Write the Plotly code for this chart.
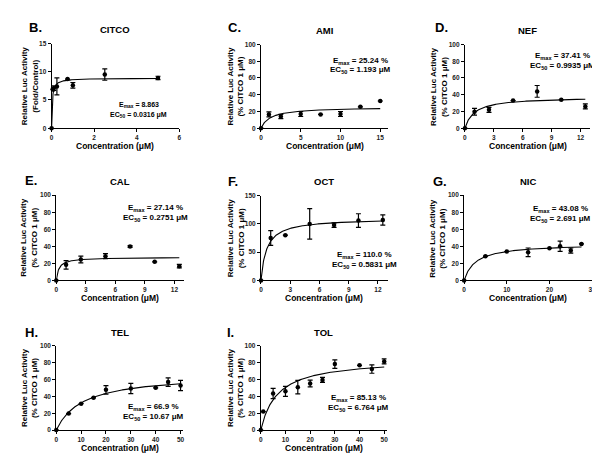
import numpy as np
import plotly.graph_objects as go

W, H = 600, 465

# ---------------- data ----------------
citco_x = [0, 0.05, 0.1, 0.25, 0.75, 1, 2.5, 5]
citco_y = [0, 6.9, 7.1, 7.4, 8.7, 7.6, 9.5, 8.9]
citco_e = [None, 0.3, 0.4, 1.5, None, 0.5, 1.0, 0.3]

ami_x = [0, 1, 2.5, 5, 7.5, 10, 12.5, 15]
ami_y = [0, 16.5, 14, 17, 16.5, 17, 25.5, 32.5]
ami_e = [None, 3, 2.5, 3, None, 3, None, None]

nef_x = [0, 1, 2.5, 5, 7.5, 10, 12.5]
nef_y = [0, 19.6, 22, 33, 44, 34, 26]
nef_e = [None, 4, 3, None, 7, None, 3]

cal_x = [0, 1, 2.5, 5, 7.5, 10, 12.5]
cal_y = [0, 18.3, 24.5, 28.4, 39.7, 21.8, 16.7]
cal_e = [None, 5, 4, 3, 1, None, 2]

oct_x = [0, 1, 2.5, 5, 7.5, 10, 12.5]
oct_y = [0, 75, 80, 100, 98, 106, 107]
oct_e = [None, 13, None, 27, 4, 12, 9]

nic_x = [0, 5, 10, 15, 20, 22.5, 25, 27.5]
nic_y = [0, 28.4, 33.9, 33, 37.7, 40, 35, 42.8]
nic_e = [None, None, None, 5, None, 6, 3, None]

tel_x = [0, 5, 10, 15, 20, 30, 40, 45, 50]
tel_y = [0, 19.6, 31.4, 38.4, 47.8, 49.4, 50.2, 57, 53]
tel_e = [None, None, None, None, 5, 6, None, 5, 6]

tol_x = [0, 1, 5, 10, 15, 20, 25, 30, 40, 45, 50]
tol_y = [0, 22, 43.5, 46, 51, 55.3, 59.6, 78.4, 76.9, 72.5, 81.6]
tol_e = [None, None, 6, 6, 8, 4, 3, 5, None, 5, 3]

# fitted parameters shown on the panels
emax_vals = [8.863, 25.24, 37.41, 27.14, 110.0, 43.08, 66.9, 85.13]
emax_text = ["8.863", "25.24 %", "37.41 %", "27.14 %", "110.0 %", "43.08 %", "66.9 %", "85.13 %"]
ec50_vals = [0.0316, 1.193, 0.9935, 0.2751, 0.5831, 2.691, 10.67, 6.764]
ec50_text = ["0.0316", "1.193", "0.9935", "0.2751", "0.5831", "2.691", "10.67", "6.764"]

letters = ["B.", "C.", "D.", "E.", "F.", "G.", "H.", "I."]
titles = ["CITCO", "AMI", "NEF", "CAL", "OCT", "NIC", "TEL", "TOL"]
ylab2 = ["(Fold/Control)"] + ["(% CITCO 1 \u03bcM)"] * 7

xs = [citco_x, ami_x, nef_x, cal_x, oct_x, nic_x, tel_x, tol_x]
ys = [citco_y, ami_y, nef_y, cal_y, oct_y, nic_y, tel_y, tol_y]
es = [citco_e, ami_e, nef_e, cal_e, oct_e, nic_e, tel_e, tol_e]

x_ranges = [[0, 6], [0, 16], [0, 13], [0, 13], [0, 13], [0, 30], [0, 51], [0, 51]]
x_ticks = [[0, 2, 4, 6], [0, 5, 10, 15], [0, 3, 6, 9, 12], [0, 3, 6, 9, 12],
           [0, 3, 6, 9, 12], [0, 10, 20, 30], [0, 10, 20, 30, 40, 50], [0, 10, 20, 30, 40, 50]]
y_ranges = [[0, 15], [0, 100], [0, 100], [0, 100], [0, 150], [0, 100], [0, 100], [0, 100]]
y_ticks = [[0, 5, 10, 15], [0, 20, 40, 60, 80, 100], [0, 20, 40, 60, 80, 100],
           [0, 20, 40, 60, 80, 100], [0, 50, 100, 150], [0, 20, 40, 60, 80, 100],
           [0, 20, 40, 60, 80, 100], [0, 20, 40, 60, 80, 100]]

# ---------------- layout geometry (pixels) ----------------
# (left px, right px, top px, bottom px)
boxes = [(42, 171, 32, 118), (253.5, 382, 33, 118), (459.5, 586, 33, 118),
         (46.7, 176, 186, 272.5), (253.5, 381.5, 186.5, 272.5), (458.7, 588, 186, 272.5),
         (46.7, 174.8, 339, 424.5), (253.3, 380.5, 339, 424.5)]
letter_pos = [(17, 16), (218, 16), (427, 16), (13, 171), (218, 172), (425, 172), (13, 325), (217, 325)]
ann_pos = [(130, 94, 105), (354, 49.5, 59), (558, 45, 54.5), (147, 199.5, 209),
           (358, 246.5, 256.5), (556, 200, 210), (145, 401.5, 411.5), (352, 392, 402)]
ann_size = [7, 8, 8, 8, 8, 8, 8, 8]
ytitle_off = [21.5, 26, 26.5, 27.5, 26, 26.5, 27.5, 26]

FONT = "Liberation Sans, Arial, sans-serif"

def fx(px):
    return px / W

def fy(py):
    return 1 - py / H

fig = go.Figure()
annotations = []
layout_axes = {}

for i in range(8):
    n = i + 1
    xa = "x" if n == 1 else f"x{n}"
    ya = "y" if n == 1 else f"y{n}"
    l, r, t, b = boxes[i]

    # fitted curve from the Emax / EC50 shown on the panel
    xc = np.linspace(0, max(xs[i]), 300)
    yc = emax_vals[i] * xc / (ec50_vals[i] + xc)
    fig.add_trace(go.Scatter(x=xc, y=yc, mode="lines", line=dict(color="black", width=1.1),
                             xaxis=xa, yaxis=ya, showlegend=False, hoverinfo="skip",
                             cliponaxis=False))
    err = [np.nan if v is None else v for v in es[i]]
    fig.add_trace(go.Scatter(x=xs[i], y=ys[i], mode="markers",
                             marker=dict(color="black", size=4.5, symbol="circle"),
                             error_y=dict(type="data", array=err, visible=True,
                                          color="black", thickness=1.2, width=2.5),
                             xaxis=xa, yaxis=ya, showlegend=False, cliponaxis=False))

    axis_common = dict(showline=True, linecolor="black", linewidth=1, ticks="outside",
                       ticklen=3, tickwidth=1, tickcolor="black", showgrid=False,
                       zeroline=False, tickfont=dict(family=FONT, size=6.5, color="#222",
                                                     weight="bold"),
                       fixedrange=True)
    layout_axes["xaxis" if n == 1 else f"xaxis{n}"] = dict(
        domain=[fx(l), fx(r)], anchor=ya, range=x_ranges[i], tickvals=x_ticks[i],
        **axis_common)
    layout_axes["yaxis" if n == 1 else f"yaxis{n}"] = dict(
        domain=[fy(b), fy(t)], anchor=xa, range=y_ranges[i], tickvals=y_ticks[i],
        **axis_common)

    # panel letter
    annotations.append(dict(text=letters[i], x=fx(letter_pos[i][0]), y=fy(letter_pos[i][1]),
                            xref="paper", yref="paper", xanchor="left", yanchor="middle",
                            showarrow=False, font=dict(family=FONT, size=13, color="black",
                                                       weight="bold")))
    # panel title
    annotations.append(dict(text=titles[i], x=fx((l + r) / 2), y=fy(t - 14),
                            xref="paper", yref="paper", xanchor="center", yanchor="middle",
                            showarrow=False, font=dict(family=FONT, size=9.5, color="black",
                                                       weight="bold")))
    # x title
    annotations.append(dict(text="Concentration (\u03bcM)", x=fx((l + r) / 2), y=fy(b + 18),
                            xref="paper", yref="paper", xanchor="center", yanchor="middle",
                            showarrow=False, font=dict(family=FONT, size=8.5, color="black",
                                                       weight="bold")))
    # y title
    annotations.append(dict(text="Relative Luc Activity<br>" + ylab2[i],
                            x=fx(l - ytitle_off[i]), y=fy((t + b) / 2),
                            xref="paper", yref="paper", xanchor="center", yanchor="middle",
                            textangle=-90, showarrow=False,
                            font=dict(family=FONT, size=8, color="black", weight="bold")))
    # Emax / EC50 labels
    ax, ay1, ay2 = ann_pos[i]
    annotations.append(dict(text="E<sub>max</sub> = " + emax_text[i], x=fx(ax), y=fy(ay1),
                            xref="paper", yref="paper", xanchor="center", yanchor="middle",
                            showarrow=False, font=dict(family=FONT, size=ann_size[i],
                                                       color="black", weight="bold")))
    annotations.append(dict(text="EC<sub>50</sub> = " + ec50_text[i] + " \u03bcM",
                            x=fx(ax), y=fy(ay2),
                            xref="paper", yref="paper", xanchor="center", yanchor="middle",
                            showarrow=False, font=dict(family=FONT, size=ann_size[i],
                                                       color="black", weight="bold")))

fig.update_layout(width=W, height=H, margin=dict(l=0, r=0, t=0, b=0),
                  paper_bgcolor="white", plot_bgcolor="white",
                  annotations=annotations, hovermode=False, **layout_axes)

fig.write_html("out.html", config={"displayModeBar": False})
